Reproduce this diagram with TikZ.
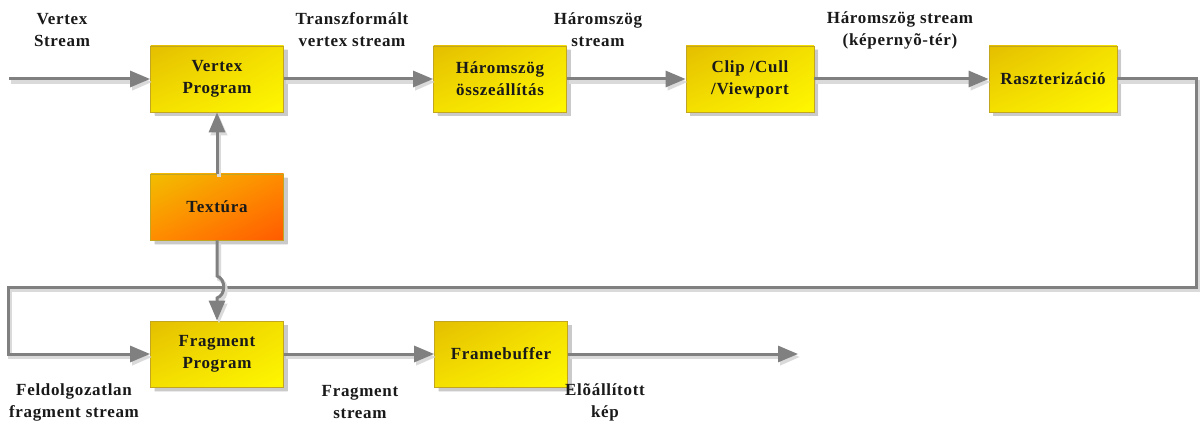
\documentclass[tikz,border=0pt]{standalone}
\usepackage{fontspec}
\setmainfont{Liberation Serif}[LetterSpace=4]
\usetikzlibrary{arrows.meta,shadows,shadings}
\definecolor{linegray}{HTML}{808080}
\definecolor{lineshadow}{HTML}{DADADA}
\definecolor{boxedge}{HTML}{C2A520}
\definecolor{boxshadow}{HTML}{D6D6D6}
\definecolor{goldtl}{HTML}{E4BE00}
\definecolor{goldmid}{HTML}{F4E000}
\definecolor{goldbr}{HTML}{FFF800}
\definecolor{orangetl}{HTML}{F2BE00}
\definecolor{orangebr}{HTML}{FF5A00}
\begin{document}
\begin{tikzpicture}[x=1pt,y=-1pt,
  txt/.style={font=\fontsize{17}{22}\selectfont\bfseries, align=center, text=black!90},
  stage/.style={txt, draw=boxedge, line width=0.8pt, minimum width=133pt,
    minimum height=66pt, inner sep=0pt,
    upper left=goldtl, upper right=goldmid, lower left=goldmid, lower right=goldbr,
    drop shadow={shadow xshift=4pt, shadow yshift=-4pt, draw=none,
      upper left=boxshadow, upper right=boxshadow,
      lower left=boxshadow, lower right=boxshadow}},
  hotstage/.style={stage, upper left=orangetl, upper right=orange!90!yellow,
    lower left=orange!90!yellow, lower right=orangebr},
  conn/.style={draw=linegray, line width=3pt, line join=miter,
    -{Triangle[length=20pt,width=16pt]},
    preaction={draw=lineshadow, line width=4pt,
      transform canvas={xshift=2pt,yshift=-3pt}}}
]
\useasboundingbox (0,0) rectangle (1203,425);

% processing stages
\node[stage] (vp) at (217,79) {Vertex\\Program};
\node[stage] (ha) at (500,79) {Háromszög\\összeállítás};
\node[stage, minimum width=128pt] (cc) at (750,79) {Clip /Cull\\/Viewport};
\node[stage, minimum width=128pt] (rz) at (1053,79) {Raszterizáció};
\node[hotstage] (tx) at (217,207) {Textúra};
\node[stage] (fp) at (217,354) {Fragment\\Program};
\node[stage] (fb) at (501,354) {Framebuffer};

% stream labels
\node[txt] (lvs) at (62,30) {Vertex\\Stream};
\node[txt] (ltv) at (352,30) {Transzformált\\vertex stream};
\node[txt] (lhs) at (598,30) {Háromszög\\stream};
\node[txt] (lhk) at (900,30) {Háromszög stream\\(képernyõ-tér)};
\node[txt] (lfs) at (74,402) {Feldolgozatlan\\fragment stream};
\node[txt] (lfr) at (360,402) {Fragment\\stream};
\node[txt] (lek) at (605,402) {Elõállított\\kép};

% free ends and bends
\coordinate (in) at (9,79);
\coordinate (r1) at (1196,79);
\coordinate (r2) at (1196,287);
\coordinate (l1) at (8,287);
\coordinate (l2) at (8,354);
\coordinate (out) at (798,354);
\coordinate (h1) at (217,276);
\coordinate (h2) at (226,279);
\coordinate (h3) at (226,295);
\coordinate (h4) at (217,298);

% top row
\draw[conn] (in) -- (vp.west);
\draw[conn] (vp.east) -- (ha.west);
\draw[conn] (ha.east) -- (cc.west);
\draw[conn] (cc.east) -- (rz.west);
\draw[conn] (tx.north) -- (vp.south);

% feedback to the fragment stage
\draw[conn] (rz.east) -- (r1) -- (r2) -- (l1) -- (l2) -- (fp.west);
\draw[conn] (tx.south) -- (h1) .. controls (h2) and (h3) .. (h4) -- (fp.north);

% bottom row
\draw[conn] (fp.east) -- (fb.west);
\draw[conn] (fb.east) -- (out);
\end{tikzpicture}
\end{document}
